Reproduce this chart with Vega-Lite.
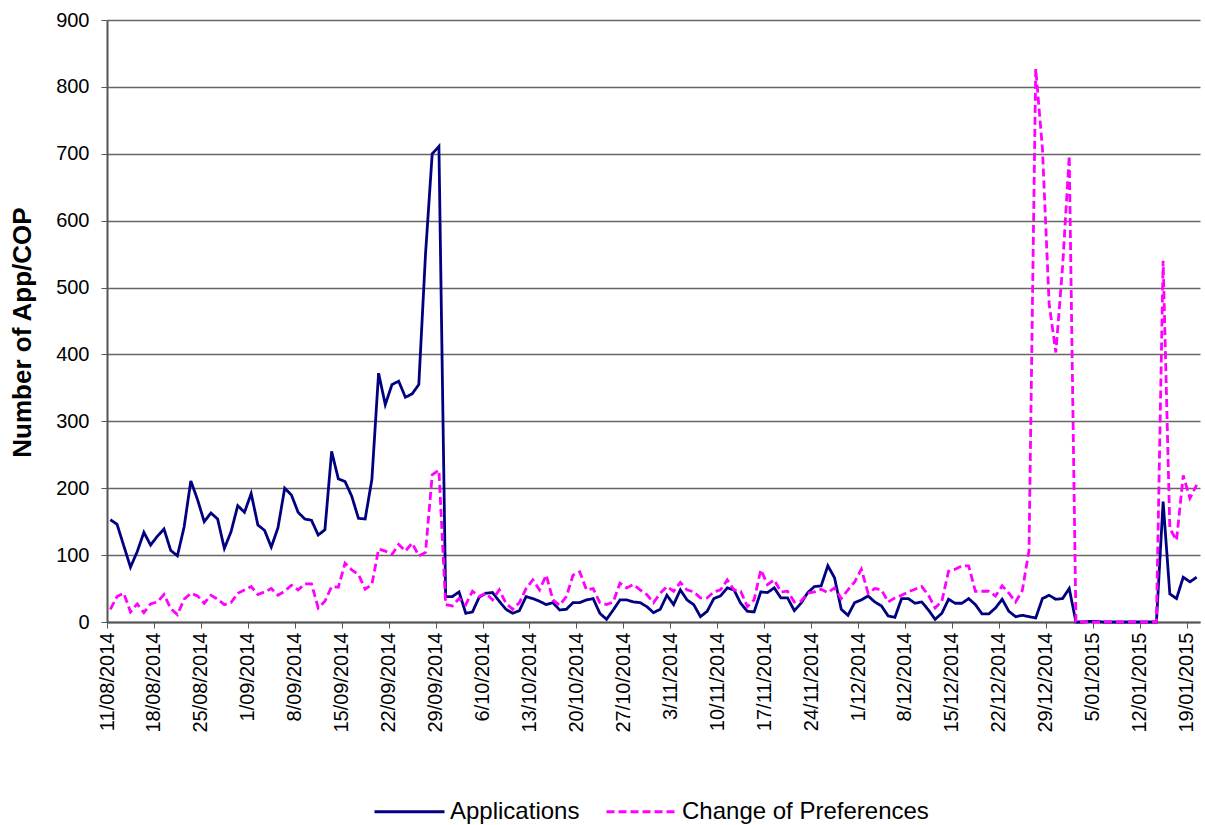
{
"$schema": "https://vega.github.io/schema/vega-lite/v6.json",
"width": 1093, "height": 602,
"autosize": {"type": "none"},
"padding": {"left": 107, "top": 20, "right": 5, "bottom": 203},
"background": "white",
"config": {
 "font": "Liberation Sans",
 "view": {"stroke": null},
 "legend": {"orient": "none", "legendX": 266, "legendY": 755, "direction": "horizontal", "padding": 0, "symbolType": "stroke", "symbolSize": 4900, "symbolStrokeWidth": 2.8, "labelFontSize": 24, "labelFont": "Liberation Sans", "labelColor": "#000", "labelLimit": 0, "columnPadding": 20, "labelOffset": 4}
},
"data": {"values": [
{"date":"2014-08-11","Applications":153,"Change of Preferences":19},
{"date":"2014-08-12","Applications":146,"Change of Preferences":38},
{"date":"2014-08-13","Applications":114,"Change of Preferences":43},
{"date":"2014-08-14","Applications":82,"Change of Preferences":15},
{"date":"2014-08-15","Applications":105,"Change of Preferences":27},
{"date":"2014-08-16","Applications":134,"Change of Preferences":14},
{"date":"2014-08-17","Applications":115,"Change of Preferences":27},
{"date":"2014-08-18","Applications":128,"Change of Preferences":30},
{"date":"2014-08-19","Applications":139,"Change of Preferences":41},
{"date":"2014-08-20","Applications":107,"Change of Preferences":20},
{"date":"2014-08-21","Applications":99,"Change of Preferences":11},
{"date":"2014-08-22","Applications":142,"Change of Preferences":34},
{"date":"2014-08-23","Applications":211,"Change of Preferences":43},
{"date":"2014-08-24","Applications":183,"Change of Preferences":39},
{"date":"2014-08-25","Applications":150,"Change of Preferences":28},
{"date":"2014-08-26","Applications":163,"Change of Preferences":40},
{"date":"2014-08-27","Applications":154,"Change of Preferences":34},
{"date":"2014-08-28","Applications":110,"Change of Preferences":26},
{"date":"2014-08-29","Applications":135,"Change of Preferences":29},
{"date":"2014-08-30","Applications":174,"Change of Preferences":43},
{"date":"2014-08-31","Applications":164,"Change of Preferences":48},
{"date":"2014-09-01","Applications":192,"Change of Preferences":53},
{"date":"2014-09-02","Applications":145,"Change of Preferences":41},
{"date":"2014-09-03","Applications":137,"Change of Preferences":45},
{"date":"2014-09-04","Applications":112,"Change of Preferences":50},
{"date":"2014-09-05","Applications":141,"Change of Preferences":40},
{"date":"2014-09-06","Applications":200,"Change of Preferences":46},
{"date":"2014-09-07","Applications":190,"Change of Preferences":55},
{"date":"2014-09-08","Applications":164,"Change of Preferences":48},
{"date":"2014-09-09","Applications":154,"Change of Preferences":57},
{"date":"2014-09-10","Applications":152,"Change of Preferences":57},
{"date":"2014-09-11","Applications":130,"Change of Preferences":21},
{"date":"2014-09-12","Applications":138,"Change of Preferences":31},
{"date":"2014-09-13","Applications":255,"Change of Preferences":53},
{"date":"2014-09-14","Applications":214,"Change of Preferences":52},
{"date":"2014-09-15","Applications":210,"Change of Preferences":88},
{"date":"2014-09-16","Applications":188,"Change of Preferences":78},
{"date":"2014-09-17","Applications":155,"Change of Preferences":71},
{"date":"2014-09-18","Applications":154,"Change of Preferences":49},
{"date":"2014-09-19","Applications":213,"Change of Preferences":56},
{"date":"2014-09-20","Applications":372,"Change of Preferences":109},
{"date":"2014-09-21","Applications":325,"Change of Preferences":106},
{"date":"2014-09-22","Applications":355,"Change of Preferences":101},
{"date":"2014-09-23","Applications":360,"Change of Preferences":116},
{"date":"2014-09-24","Applications":336,"Change of Preferences":106},
{"date":"2014-09-25","Applications":341,"Change of Preferences":118},
{"date":"2014-09-26","Applications":355,"Change of Preferences":99},
{"date":"2014-09-27","Applications":550,"Change of Preferences":104},
{"date":"2014-09-28","Applications":700,"Change of Preferences":220},
{"date":"2014-09-29","Applications":711,"Change of Preferences":227},
{"date":"2014-09-30","Applications":38,"Change of Preferences":26},
{"date":"2014-10-01","Applications":38,"Change of Preferences":24},
{"date":"2014-10-02","Applications":45,"Change of Preferences":35},
{"date":"2014-10-03","Applications":13,"Change of Preferences":26},
{"date":"2014-10-04","Applications":15,"Change of Preferences":46},
{"date":"2014-10-05","Applications":37,"Change of Preferences":38},
{"date":"2014-10-06","Applications":43,"Change of Preferences":43},
{"date":"2014-10-07","Applications":44,"Change of Preferences":33},
{"date":"2014-10-08","Applications":31,"Change of Preferences":48},
{"date":"2014-10-09","Applications":19,"Change of Preferences":28},
{"date":"2014-10-10","Applications":13,"Change of Preferences":19},
{"date":"2014-10-11","Applications":17,"Change of Preferences":29},
{"date":"2014-10-12","Applications":38,"Change of Preferences":50},
{"date":"2014-10-13","Applications":35,"Change of Preferences":63},
{"date":"2014-10-14","Applications":31,"Change of Preferences":48},
{"date":"2014-10-15","Applications":26,"Change of Preferences":70},
{"date":"2014-10-16","Applications":29,"Change of Preferences":33},
{"date":"2014-10-17","Applications":18,"Change of Preferences":25},
{"date":"2014-10-18","Applications":19,"Change of Preferences":38},
{"date":"2014-10-19","Applications":29,"Change of Preferences":70},
{"date":"2014-10-20","Applications":29,"Change of Preferences":75},
{"date":"2014-10-21","Applications":33,"Change of Preferences":48},
{"date":"2014-10-22","Applications":35,"Change of Preferences":50},
{"date":"2014-10-23","Applications":13,"Change of Preferences":29},
{"date":"2014-10-24","Applications":4,"Change of Preferences":26},
{"date":"2014-10-25","Applications":18,"Change of Preferences":30},
{"date":"2014-10-26","Applications":33,"Change of Preferences":58},
{"date":"2014-10-27","Applications":33,"Change of Preferences":51},
{"date":"2014-10-28","Applications":30,"Change of Preferences":56},
{"date":"2014-10-29","Applications":29,"Change of Preferences":48},
{"date":"2014-10-30","Applications":23,"Change of Preferences":41},
{"date":"2014-10-31","Applications":14,"Change of Preferences":29},
{"date":"2014-11-01","Applications":19,"Change of Preferences":43},
{"date":"2014-11-02","Applications":40,"Change of Preferences":53},
{"date":"2014-11-03","Applications":26,"Change of Preferences":46},
{"date":"2014-11-04","Applications":48,"Change of Preferences":59},
{"date":"2014-11-05","Applications":33,"Change of Preferences":48},
{"date":"2014-11-06","Applications":26,"Change of Preferences":45},
{"date":"2014-11-07","Applications":8,"Change of Preferences":36},
{"date":"2014-11-08","Applications":16,"Change of Preferences":36},
{"date":"2014-11-09","Applications":35,"Change of Preferences":45},
{"date":"2014-11-10","Applications":39,"Change of Preferences":48},
{"date":"2014-11-11","Applications":51,"Change of Preferences":63},
{"date":"2014-11-12","Applications":48,"Change of Preferences":48},
{"date":"2014-11-13","Applications":28,"Change of Preferences":46},
{"date":"2014-11-14","Applications":16,"Change of Preferences":23},
{"date":"2014-11-15","Applications":15,"Change of Preferences":33},
{"date":"2014-11-16","Applications":45,"Change of Preferences":78},
{"date":"2014-11-17","Applications":44,"Change of Preferences":56},
{"date":"2014-11-18","Applications":51,"Change of Preferences":63},
{"date":"2014-11-19","Applications":36,"Change of Preferences":45},
{"date":"2014-11-20","Applications":36,"Change of Preferences":46},
{"date":"2014-11-21","Applications":17,"Change of Preferences":30},
{"date":"2014-11-22","Applications":28,"Change of Preferences":31},
{"date":"2014-11-23","Applications":44,"Change of Preferences":43},
{"date":"2014-11-24","Applications":53,"Change of Preferences":45},
{"date":"2014-11-25","Applications":54,"Change of Preferences":49},
{"date":"2014-11-26","Applications":84,"Change of Preferences":44},
{"date":"2014-11-27","Applications":66,"Change of Preferences":51},
{"date":"2014-11-28","Applications":19,"Change of Preferences":35},
{"date":"2014-11-29","Applications":10,"Change of Preferences":48},
{"date":"2014-11-30","Applications":29,"Change of Preferences":60},
{"date":"2014-12-01","Applications":33,"Change of Preferences":79},
{"date":"2014-12-02","Applications":39,"Change of Preferences":43},
{"date":"2014-12-03","Applications":30,"Change of Preferences":50},
{"date":"2014-12-04","Applications":24,"Change of Preferences":48},
{"date":"2014-12-05","Applications":9,"Change of Preferences":30},
{"date":"2014-12-06","Applications":7,"Change of Preferences":36},
{"date":"2014-12-07","Applications":35,"Change of Preferences":40},
{"date":"2014-12-08","Applications":35,"Change of Preferences":45},
{"date":"2014-12-09","Applications":28,"Change of Preferences":49},
{"date":"2014-12-10","Applications":30,"Change of Preferences":53},
{"date":"2014-12-11","Applications":18,"Change of Preferences":40},
{"date":"2014-12-12","Applications":4,"Change of Preferences":21},
{"date":"2014-12-13","Applications":13,"Change of Preferences":31},
{"date":"2014-12-14","Applications":34,"Change of Preferences":76},
{"date":"2014-12-15","Applications":28,"Change of Preferences":79},
{"date":"2014-12-16","Applications":28,"Change of Preferences":84},
{"date":"2014-12-17","Applications":35,"Change of Preferences":84},
{"date":"2014-12-18","Applications":26,"Change of Preferences":46},
{"date":"2014-12-19","Applications":12,"Change of Preferences":46},
{"date":"2014-12-20","Applications":12,"Change of Preferences":46},
{"date":"2014-12-21","Applications":21,"Change of Preferences":39},
{"date":"2014-12-22","Applications":34,"Change of Preferences":54},
{"date":"2014-12-23","Applications":16,"Change of Preferences":43},
{"date":"2014-12-24","Applications":8,"Change of Preferences":30},
{"date":"2014-12-25","Applications":10,"Change of Preferences":47},
{"date":"2014-12-26","Applications":8,"Change of Preferences":107},
{"date":"2014-12-27","Applications":6,"Change of Preferences":827},
{"date":"2014-12-28","Applications":35,"Change of Preferences":708},
{"date":"2014-12-29","Applications":40,"Change of Preferences":476},
{"date":"2014-12-30","Applications":34,"Change of Preferences":403},
{"date":"2014-12-31","Applications":35,"Change of Preferences":530},
{"date":"2015-01-01","Applications":50,"Change of Preferences":697},
{"date":"2015-01-02","Applications":0,"Change of Preferences":0},
{"date":"2015-01-03","Applications":0,"Change of Preferences":0},
{"date":"2015-01-04","Applications":1,"Change of Preferences":0},
{"date":"2015-01-05","Applications":1,"Change of Preferences":0},
{"date":"2015-01-06","Applications":0,"Change of Preferences":0},
{"date":"2015-01-07","Applications":0,"Change of Preferences":0},
{"date":"2015-01-08","Applications":0,"Change of Preferences":0},
{"date":"2015-01-09","Applications":0,"Change of Preferences":0},
{"date":"2015-01-10","Applications":0,"Change of Preferences":0},
{"date":"2015-01-11","Applications":0,"Change of Preferences":0},
{"date":"2015-01-12","Applications":0,"Change of Preferences":0},
{"date":"2015-01-13","Applications":0,"Change of Preferences":0},
{"date":"2015-01-14","Applications":0,"Change of Preferences":0},
{"date":"2015-01-15","Applications":180,"Change of Preferences":540},
{"date":"2015-01-16","Applications":42,"Change of Preferences":140},
{"date":"2015-01-17","Applications":35,"Change of Preferences":122},
{"date":"2015-01-18","Applications":67,"Change of Preferences":219},
{"date":"2015-01-19","Applications":60,"Change of Preferences":185},
{"date":"2015-01-20","Applications":67,"Change of Preferences":205}
]},
"transform": [{"fold": ["Applications", "Change of Preferences"], "as": ["series", "value"]}],
"mark": {"type": "line", "strokeWidth": 2.8, "interpolate": "linear"},
"encoding": {
 "x": {"field": "date", "type": "temporal", "timeUnit": "utcyearmonthdate", "bandPosition": 0.5,
  "scale": {"type": "utc", "domain": [{"year": 2014, "month": 8, "date": 11, "utc": true}, {"year": 2015, "month": 1, "date": 21, "utc": true}]},
  "axis": {"title": null, "format": "%-d/%m/%Y", "labelAngle": -90, "labelFontSize": 20, "labelColor": "#000", "labelPadding": 4,
   "grid": false, "domainColor": "#555", "domainWidth": 2, "tickColor": "#555", "tickSize": 6, "labelOverlap": false, "labelBound": false, "labelFlush": false,
   "values": [
    {"year":2014,"month":8,"date":11,"utc":true},{"year":2014,"month":8,"date":18,"utc":true},{"year":2014,"month":8,"date":25,"utc":true},
    {"year":2014,"month":9,"date":1,"utc":true},{"year":2014,"month":9,"date":8,"utc":true},{"year":2014,"month":9,"date":15,"utc":true},
    {"year":2014,"month":9,"date":22,"utc":true},{"year":2014,"month":9,"date":29,"utc":true},{"year":2014,"month":10,"date":6,"utc":true},
    {"year":2014,"month":10,"date":13,"utc":true},{"year":2014,"month":10,"date":20,"utc":true},{"year":2014,"month":10,"date":27,"utc":true},
    {"year":2014,"month":11,"date":3,"utc":true},{"year":2014,"month":11,"date":10,"utc":true},{"year":2014,"month":11,"date":17,"utc":true},
    {"year":2014,"month":11,"date":24,"utc":true},{"year":2014,"month":12,"date":1,"utc":true},{"year":2014,"month":12,"date":8,"utc":true},
    {"year":2014,"month":12,"date":15,"utc":true},{"year":2014,"month":12,"date":22,"utc":true},{"year":2014,"month":12,"date":29,"utc":true},
    {"year":2015,"month":1,"date":5,"utc":true},{"year":2015,"month":1,"date":12,"utc":true},{"year":2015,"month":1,"date":19,"utc":true}
   ]}},
 "y": {"field": "value", "type": "quantitative",
  "scale": {"domain": [0, 900], "nice": false},
  "axis": {"title": "Number of App/COP", "titleFontSize": 26, "titleFontWeight": "bold", "titleColor": "#000", "titleX": -85, "titleY": 312, "titleAngle": -90, "titleBaseline": "middle", "titleAlign": "center",
   "values": [0,100,200,300,400,500,600,700,800,900], "labelFontSize": 20, "labelColor": "#000", "labelPadding": 12,
   "grid": true, "gridColor": "#666", "gridWidth": 1.5, "gridOpacity": 1, "domainColor": "#555", "domainWidth": 2, "tickColor": "#555", "tickSize": 6}},
 "color": {"field": "series", "type": "nominal", "scale": {"domain": ["Applications", "Change of Preferences"], "range": ["#000080", "#FF00FF"]}, "legend": {"title": null}},
 "strokeDash": {"field": "series", "type": "nominal", "scale": {"domain": ["Applications", "Change of Preferences"], "range": [[1, 0], [8, 4]]}, "legend": {"title": null}}
}
}
